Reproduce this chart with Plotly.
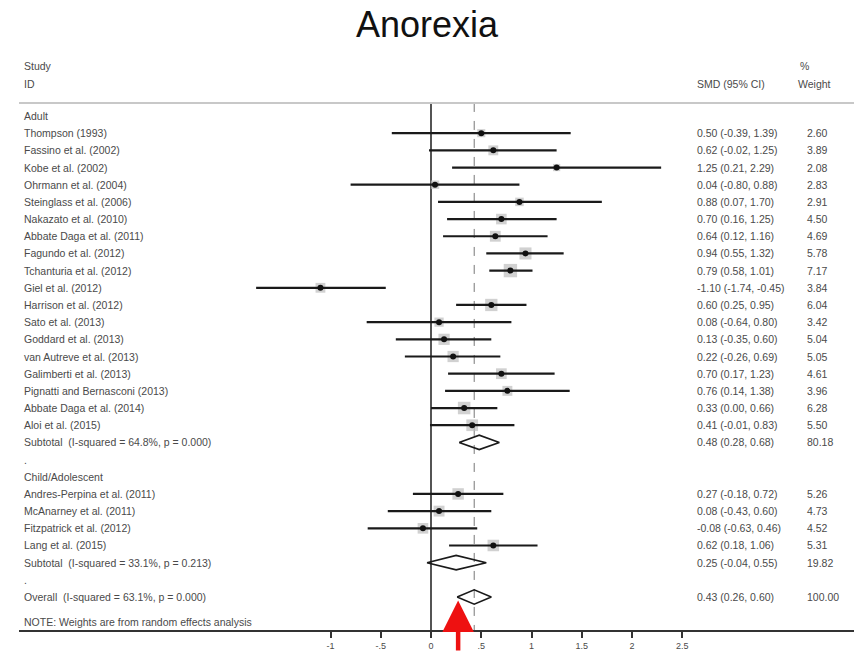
import numpy as np
import plotly.graph_objects as go

# ---- data -------------------------------------------------------------
adult_studies = [
    "Thompson (1993)", "Fassino et al. (2002)", "Kobe et al. (2002)",
    "Ohrmann et al. (2004)", "Steinglass et al. (2006)", "Nakazato et al. (2010)",
    "Abbate Daga et al. (2011)", "Fagundo et al. (2012)", "Tchanturia et al. (2012)",
    "Giel et al. (2012)", "Harrison et al. (2012)", "Sato et al. (2013)",
    "Goddard et al. (2013)", "van Autreve et al. (2013)", "Galimberti et al. (2013)",
    "Pignatti and Bernasconi (2013)", "Abbate Daga et al. (2014)", "Aloi et al. (2015)",
]
adult_smd = [0.50, 0.62, 1.25, 0.04, 0.88, 0.70, 0.64, 0.94, 0.79, -1.10,
             0.60, 0.08, 0.13, 0.22, 0.70, 0.76, 0.33, 0.41]
adult_lo = [-0.39, -0.02, 0.21, -0.80, 0.07, 0.16, 0.12, 0.55, 0.58, -1.74,
            0.25, -0.64, -0.35, -0.26, 0.17, 0.14, 0.00, -0.01]
adult_hi = [1.39, 1.25, 2.29, 0.88, 1.70, 1.25, 1.16, 1.32, 1.01, -0.45,
            0.95, 0.80, 0.60, 0.69, 1.23, 1.38, 0.66, 0.83]
adult_wt = [2.60, 3.89, 2.08, 2.83, 2.91, 4.50, 4.69, 5.78, 7.17, 3.84,
            6.04, 3.42, 5.04, 5.05, 4.61, 3.96, 6.28, 5.50]
adult_sub = (0.48, 0.28, 0.68, 80.18)
adult_sub_label = "Subtotal  (I-squared = 64.8%, p = 0.000)"

child_studies = [
    "Andres-Perpina et al. (2011)", "McAnarney et al. (2011)",
    "Fitzpatrick et al. (2012)", "Lang et al. (2015)",
]
child_smd = [0.27, 0.08, -0.08, 0.62]
child_lo = [-0.18, -0.43, -0.63, 0.18]
child_hi = [0.72, 0.60, 0.46, 1.06]
child_wt = [5.26, 4.73, 4.52, 5.31]
child_sub = (0.25, -0.04, 0.55, 19.82)
child_sub_label = "Subtotal  (I-squared = 33.1%, p = 0.213)"

overall = (0.43, 0.26, 0.60, 100.00)
overall_label = "Overall  (I-squared = 63.1%, p = 0.000)"

tick_vals = [-1, -0.5, 0, 0.5, 1, 1.5, 2, 2.5]
tick_text = ["-1", "-.5", "0", ".5", "1", "1.5", "2", "2.5"]

# ---- layout constants ---------------------------------------------------
FONT = "Liberation Sans, Arial, sans-serif"
TXT = "#4a4a4a"
X_LABEL = -4.07      # study column
X_SMD = 2.63         # effect-size column
X_WT = 3.72          # weight column
X_WT_HEAD = 3.63
X_RANGE = [-4.0995, 4.209]
Y_RANGE = [29.92, -6.752]
DIAMOND_H = 0.42

# ---- row bookkeeping -------------------------------------------------------
rows = []  # (row, label, kind, est, lo, hi, wt)
r = 0
rows.append((r, "Adult", "head", None, None, None, None)); r += 1
for s, e, l, h, w in zip(adult_studies, adult_smd, adult_lo, adult_hi, adult_wt):
    rows.append((r, s, "study", e, l, h, w)); r += 1
rows.append((r, adult_sub_label, "diamond", *adult_sub)); r += 1
rows.append((r, ".", "head", None, None, None, None)); r += 1
rows.append((r, "Child/Adolescent", "head", None, None, None, None)); r += 1
for s, e, l, h, w in zip(child_studies, child_smd, child_lo, child_hi, child_wt):
    rows.append((r, s, "study", e, l, h, w)); r += 1
rows.append((r, child_sub_label, "diamond", *child_sub)); r += 1
rows.append((r, ".", "head", None, None, None, None)); r += 1
rows.append((r, overall_label, "diamond", *overall)); r += 1
overall_row = r - 1
note_row = overall_row + 1.45

study_rows = [x for x in rows if x[2] == "study"]
diamond_rows = [x for x in rows if x[2] == "diamond"]

fig = go.Figure()

# weight boxes (area proportional to weight)
fig.add_trace(go.Scatter(
    x=[x[3] for x in study_rows], y=[x[0] for x in study_rows],
    mode="markers",
    marker=dict(symbol="square", size=[5.0 * np.sqrt(x[6]) for x in study_rows],
                color="#bdbdbd", line=dict(width=0)),
    hoverinfo="skip", showlegend=False,
))

# confidence intervals and point estimates
fig.add_trace(go.Scatter(
    x=[x[3] for x in study_rows], y=[x[0] for x in study_rows],
    mode="markers",
    marker=dict(symbol="circle", size=6, color="#111"),
    error_x=dict(type="data", symmetric=False,
                 array=[x[5] - x[3] for x in study_rows],
                 arrayminus=[x[3] - x[4] for x in study_rows],
                 thickness=2.2, width=0, color="#1a1a1a"),
    hoverinfo="skip", showlegend=False,
))

# pooled-estimate diamonds
for rr, _, _, e, l, h, _w in diamond_rows:
    fig.add_trace(go.Scatter(
        x=[l, e, h, e, l], y=[rr, rr - DIAMOND_H, rr, rr + DIAMOND_H, rr],
        mode="lines", line=dict(color="#1a1a1a", width=1.6),
        hoverinfo="skip", showlegend=False,
    ))

shapes = [
    # header rule
    dict(type="line", xref="paper", yref="y", x0=0, x1=1, y0=-0.76, y1=-0.76,
         line=dict(color="#c8c8c8", width=2)),
    # line of no effect
    dict(type="line", xref="x", yref="y", x0=0, x1=0, y0=-0.76, y1=Y_RANGE[0],
         line=dict(color="#2a2a2a", width=1.6), layer="below"),
    # overall estimate
    dict(type="line", xref="x", yref="y", x0=overall[0], x1=overall[0],
         y0=-0.76, y1=Y_RANGE[0],
         line=dict(color="#777", width=1, dash="dash"), layer="below"),
]

ann = []


def txt(x, y, s, size=10.5, color=TXT):
    ann.append(dict(x=x, y=y, xref="x", yref="y", text=s, showarrow=False,
                    xanchor="left", yanchor="middle",
                    font=dict(family=FONT, size=size, color=color)))


# column headers
txt(X_LABEL, -2.9, "Study")
txt(X_LABEL, -1.85, "ID")
txt(X_SMD, -1.85, "SMD (95% CI)")
txt(X_WT_HEAD + 0.02, -2.9, "%")
txt(X_WT_HEAD, -1.85, "Weight")

for rr, label, kind, e, l, h, w in rows:
    txt(X_LABEL, rr, label)
    if kind != "head":
        txt(X_SMD, rr, f"{e:.2f} ({l:.2f}, {h:.2f})")
        txt(X_WT, rr, f"{w:.2f}")

txt(X_LABEL, note_row, "NOTE: Weights are from random effects analysis")

# pointer to the overall pooled estimate
ann.append(dict(x=overall[1] + 0.01, y=overall_row + 0.2, xref="x", yref="y",
                ax=0, ay=62, axref="pixel", ayref="pixel", text="",
                showarrow=True, arrowhead=2, arrowsize=1.4, arrowwidth=4.5,
                arrowcolor="#ee1111"))

fig.update_layout(
    width=854, height=652,
    margin=dict(l=19, r=0, t=0, b=22, autoexpand=False),
    paper_bgcolor="white", plot_bgcolor="white",
    title=dict(text="Anorexia", x=0.5, xref="container", xanchor="center",
               y=1 - 24 / 652, yref="container", yanchor="middle",
               font=dict(family=FONT, size=36, color="#111")),
    xaxis=dict(range=X_RANGE, tickvals=tick_vals, ticktext=tick_text,
               automargin=False,
               showgrid=False, zeroline=False, showline=True,
               linecolor="#333", linewidth=2, ticks="outside", ticklen=6,
               tickwidth=1.5, tickcolor="#333",
               tickfont=dict(family=FONT, size=9, color=TXT)),
    yaxis=dict(range=Y_RANGE, visible=False, showgrid=False, zeroline=False,
               automargin=False),
    shapes=shapes, annotations=ann,
)

fig.write_html("out.html")
